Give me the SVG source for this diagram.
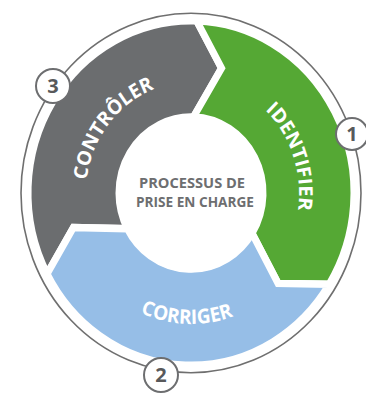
<svg xmlns="http://www.w3.org/2000/svg" width="366" height="393" viewBox="0 0 366 393">
  <style>
    .seg { stroke: #ffffff; stroke-width: 7; stroke-linejoin: miter; }
    .lbl { font-family: "Open Sans", "Noto Sans", sans-serif; font-weight: 700; font-size: 19px; fill: #ffffff; }
    .ctr { font-family: "Open Sans", "Noto Sans", sans-serif; font-weight: 700; font-size: 14.5px; fill: #6d6e70; text-anchor: middle; }
    .badge { fill: #ffffff; stroke: #6d6e70; stroke-width: 2; }
    .num { font-family: "Open Sans", "Noto Sans", sans-serif; font-weight: 700; font-size: 20px; fill: #58595b; text-anchor: middle; }
  </style>
  <defs>
    <path id="arcControler" d="M -89.0,55.6 A 105 105 0 0 1 32.4,-99.9"/>
    <path id="arcIdentifier" d="M 1.9,-108.0 A 108 108 0 0 1 68.0,83.9"/>
    <path id="arcCorriger" d="M -117.93,38.32 A 124 124 0 0 0 114.97,46.45"/>
  </defs>
  <rect width="366" height="393" fill="#ffffff"/>
  <g id="connectors">
    <ellipse cx="191" cy="193" rx="170" ry="179.7" fill="none" stroke="#6f6f6f" stroke-width="1.6"/>
  </g>
  <g transform="translate(191,193) scale(1,1.057)">
    <g id="node-controler">
      <path class="seg" fill="#6b6d6f" d="M -143.92,76.53 A 163 163 0 0 1 5.69,-162.90 L 30.55,-118.11 L 2.51,-71.96 A 72 72 0 0 0 -63.57,33.80 L -117.56,32.60 Z"/>
      <text class="lbl"><textPath href="#arcControler" startOffset="50%" text-anchor="middle">CONTRÔLER</textPath></text>
    </g>
    <g id="node-identifier">
      <path class="seg" fill="#55a834" d="M 5.69,-162.90 A 163 163 0 0 1 138.22,86.37 L 87.02,85.51 L 61.06,38.15 A 72 72 0 0 0 2.51,-71.96 L 30.55,-118.11 Z"/>
      <text class="lbl"><textPath href="#arcIdentifier" startOffset="50%" text-anchor="middle">IDENTIFIER</textPath></text>
    </g>
    <g id="node-corriger">
      <path class="seg" fill="#96bee7" d="M 138.22,86.37 A 163 163 0 0 1 -143.92,76.53 L -117.56,32.60 L -63.57,33.80 A 72 72 0 0 0 61.06,38.15 L 87.02,85.51 Z"/>
      <text class="lbl"><textPath href="#arcCorriger" startOffset="50%" text-anchor="middle">CORRIGER</textPath></text>
    </g>
    <g id="node-center">
      <circle cx="0" cy="2" r="73" fill="#ffffff"/>
    </g>
  </g>
  <g id="node-center-text">
    <text class="ctr" x="192" y="188" textLength="106" lengthAdjust="spacingAndGlyphs">PROCESSUS DE</text>
    <text class="ctr" x="195" y="207" textLength="118" lengthAdjust="spacingAndGlyphs">PRISE EN CHARGE</text>
  </g>
  <g id="badge-1">
    <circle class="badge" cx="352" cy="134" r="16"/>
    <text class="num" x="352" y="141">1</text>
  </g>
  <g id="badge-2">
    <circle class="badge" cx="161" cy="375" r="17"/>
    <text class="num" x="161" y="382">2</text>
  </g>
  <g id="badge-3">
    <circle class="badge" cx="53" cy="86" r="17"/>
    <text class="num" x="53" y="93">3</text>
  </g>
</svg>
